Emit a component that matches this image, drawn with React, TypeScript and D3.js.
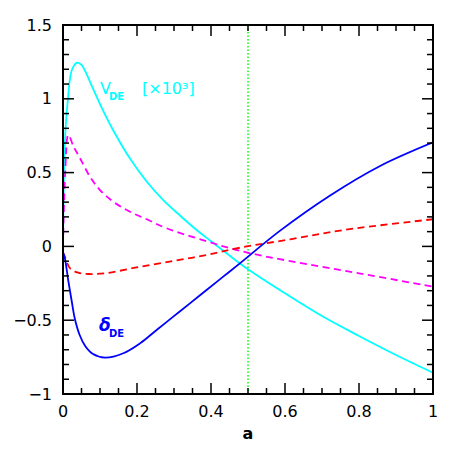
import React from 'react';
import * as d3 from 'd3';

// V_DE (x10^3), cyan solid
const vdeA = [0, 0.005, 0.013, 0.024, 0.038, 0.05, 0.065, 0.08, 0.1045, 0.136, 0.181, 0.226, 0.271, 0.316, 0.357, 0.4, 0.45, 0.5, 0.6, 0.7, 0.8, 0.9, 1.0];
const vdeV = [0, 0.7, 0.99, 1.195, 1.245, 1.23, 1.16, 1.075, 0.94, 0.785, 0.595, 0.44, 0.314, 0.21, 0.12, 0.035, -0.062, -0.155, -0.318, -0.472, -0.607, -0.736, -0.856];

// magenta dashed
const magA = [0, 0.006, 0.0144, 0.028, 0.046, 0.073, 0.1, 0.136, 0.181, 0.226, 0.28, 0.388, 0.478, 0.614, 0.8, 1.0];
const magV = [0, 0.5, 0.755, 0.68, 0.597, 0.472, 0.382, 0.303, 0.235, 0.184, 0.123, 0.035, -0.03, -0.1, -0.182, -0.273];

// red dashed
const redA = [0, 0.005, 0.019, 0.041, 0.068, 0.114, 0.204, 0.303, 0.388, 0.478, 0.614, 0.758, 1.0];
const redV = [-0.04, -0.07, -0.148, -0.178, -0.187, -0.182, -0.14, -0.097, -0.058, -0.009, 0.048, 0.111, 0.184];

// delta_DE, blue solid
const delA = [0, 0.005, 0.014, 0.0235, 0.032, 0.045, 0.06, 0.08, 0.1135, 0.163, 0.208, 0.253, 0.298, 0.343, 0.388, 0.433, 0.478, 0.586, 0.722, 0.857, 1.0];
const delV = [-0.04, -0.08, -0.228, -0.37, -0.49, -0.6, -0.675, -0.728, -0.754, -0.724, -0.657, -0.566, -0.476, -0.386, -0.295, -0.205, -0.115, 0.105, 0.345, 0.545, 0.705];

const xMajor = [0, 0.2, 0.4, 0.6, 0.8, 1];
const xLabels = ['0', '0.2', '0.4', '0.6', '0.8', '1'];
const yMajor = [-1, -0.5, 0, 0.5, 1, 1.5];
const yLabels = ['\u22121', '\u22120.5', '0', '0.5', '1', '1.5'];

const W = 457, H = 457;
const L = 63, R = 433, T = 25, B = 394;
const FONT = "'DejaVu Sans', sans-serif";

export default function App() {
  const x = d3.scaleLinear().domain([0, 1]).range([L, R]);
  const y = d3.scaleLinear().domain([-1, 1.5]).range([B, T]);

  const line = d3.line<[number, number]>()
    .x((d) => x(d[0]))
    .y((d) => y(d[1]))
    .curve(d3.curveCatmullRom.alpha(0.5));

  const zip = (a: number[], v: number[]) => a.map((ai, i) => [ai, v[i]] as [number, number]);

  const xMinor = d3.range(0, 1.0001, 0.05).filter((t) => Math.abs(t * 5 - Math.round(t * 5)) > 1e-6);
  const yMinor = d3.range(-1, 1.5001, 0.1).filter((t) => Math.abs(t * 2 - Math.round(t * 2)) > 1e-6);

  const maj = 11, mnr = 6;

  return (
    <svg width={W} height={H} style={{ position: 'absolute', left: 0, top: 0, background: '#fff' }}>
      <defs>
        <clipPath id="plot">
          <rect x={L} y={T} width={R - L} height={B - T} />
        </clipPath>
      </defs>

      <g clipPath="url(#plot)" fill="none">
        {/* a = 0.5 marker */}
        <line x1={x(0.5)} x2={x(0.5)} y1={T} y2={B} stroke="#00ff00" strokeWidth={1.5} strokeDasharray="1.5,2" />
        <path d={line(zip(vdeA, vdeV)) || ''} stroke="#00ffff" strokeWidth={1.8} />
        <path d={line(zip(magA, magV)) || ''} stroke="#ff00ff" strokeWidth={1.8} strokeDasharray="7,4.5" />
        <path d={line(zip(redA, redV)) || ''} stroke="#ff0000" strokeWidth={1.8} strokeDasharray="7,4.5" />
        <path d={line(zip(delA, delV)) || ''} stroke="#0000ff" strokeWidth={1.8} />
      </g>

      {/* ticks, all four sides, pointing in */}
      <g stroke="#000" strokeWidth={1.5}>
        {xMajor.map((t) => (
          <g key={'xM' + t}>
            <line x1={x(t)} x2={x(t)} y1={B} y2={B - maj} />
            <line x1={x(t)} x2={x(t)} y1={T} y2={T + maj} />
          </g>
        ))}
        {xMinor.map((t) => (
          <g key={'xm' + t}>
            <line x1={x(t)} x2={x(t)} y1={B} y2={B - mnr} />
            <line x1={x(t)} x2={x(t)} y1={T} y2={T + mnr} />
          </g>
        ))}
        {yMajor.map((t) => (
          <g key={'yM' + t}>
            <line x1={L} x2={L + maj} y1={y(t)} y2={y(t)} />
            <line x1={R} x2={R - maj} y1={y(t)} y2={y(t)} />
          </g>
        ))}
        {yMinor.map((t) => (
          <g key={'ym' + t}>
            <line x1={L} x2={L + mnr} y1={y(t)} y2={y(t)} />
            <line x1={R} x2={R - mnr} y1={y(t)} y2={y(t)} />
          </g>
        ))}
      </g>
      <rect x={L} y={T} width={R - L} height={B - T} fill="none" stroke="#000" strokeWidth={2} />

      {/* tick labels */}
      <g fontFamily={FONT} fontSize={16} fill="#000">
        {xMajor.map((t, i) => (
          <text key={'xl' + t} x={x(t)} y={417} textAnchor="middle">{xLabels[i]}</text>
        ))}
        {yMajor.map((t, i) => (
          <text key={'yl' + t} x={52} y={y(t) + 5.5} textAnchor="end">{yLabels[i]}</text>
        ))}
        <text x={x(0.5)} y={439} textAnchor="middle" fontWeight="bold">a</text>
      </g>

      {/* curve labels */}
      <g fontFamily={FONT} fill="#00ffff">
        <text x={100} y={94} fontSize={16}>V</text>
        <text x={109} y={100} fontSize={10} fontWeight="bold">DE</text>
        <text x={142} y={94} fontSize={16}>[×10³]</text>
      </g>
      <g fontFamily={FONT} fill="#0000ff">
        <text x={99} y={331} fontSize={17} fontStyle="italic" fontWeight="bold">δ</text>
        <text x={109} y={337} fontSize={10} fontWeight="bold">DE</text>
      </g>
    </svg>
  );
}
